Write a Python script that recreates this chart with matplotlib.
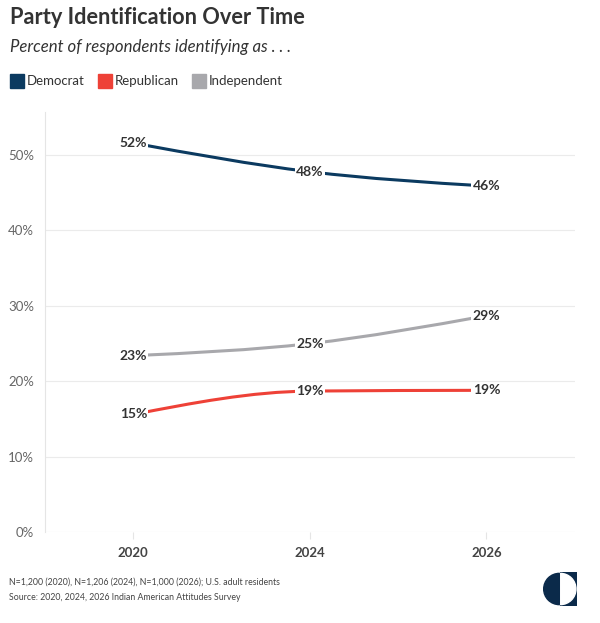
import numpy as np
import matplotlib.pyplot as plt
from matplotlib.path import Path
from matplotlib.patches import PathPatch, Rectangle, Wedge

years = ["2020", "2024", "2026"]
democrat = [51.6, 47.8, 45.9]
republican = [15.6, 18.7, 18.8]
independent = [23.4, 25.0, 28.7]
labels = {
    "Democrat": ["52%", "48%", "46%"],
    "Republican": ["15%", "19%", "19%"],
    "Independent": ["23%", "25%", "29%"],
}
yticks = [0, 10, 20, 30, 40, 50]

colors = {"Democrat": "#0b3a60", "Republican": "#ee4137", "Independent": "#a8a8ac"}
series = {"Democrat": democrat, "Republican": republican, "Independent": independent}

plt.rcParams['font.family'] = ['Lato', 'DejaVu Sans']


def monotone_path(x, y):
    # d3 curveMonotoneX as cubic bezier segments
    x = np.asarray(x, float)
    y = np.asarray(y, float)
    n = len(x)
    h = np.diff(x)
    s = np.diff(y) / h
    t = np.zeros(n)
    for i in range(1, n - 1):
        p = (s[i - 1] * h[i] + s[i] * h[i - 1]) / (h[i - 1] + h[i])
        t[i] = (np.sign(s[i - 1]) + np.sign(s[i])) * min(abs(s[i - 1]), abs(s[i]), 0.5 * abs(p))
    t[0] = (3 * s[0] - t[1]) / 2
    t[-1] = (3 * s[-1] - t[-2]) / 2
    verts = [(x[0], y[0])]
    codes = [Path.MOVETO]
    for i in range(n - 1):
        dx = (x[i + 1] - x[i]) / 3
        verts += [(x[i] + dx, y[i] + dx * t[i]),
                  (x[i + 1] - dx, y[i + 1] - dx * t[i + 1]),
                  (x[i + 1], y[i + 1])]
        codes += [Path.CURVE4] * 3
    return Path(verts, codes)


fig = plt.figure(figsize=(6, 6.23), dpi=100)
ax = fig.add_axes([0.075, 0.146, 0.883, 0.674])

xs = np.arange(len(years))
for name, vals in series.items():
    ax.add_patch(PathPatch(monotone_path(xs, vals), fill=False,
                           edgecolor=colors[name], lw=2.2, zorder=3))
    for i, (v, lab) in enumerate(zip(vals, labels[name])):
        ax.text(xs[i], v, lab, ha="center", va="center", fontsize=10, fontweight="bold",
                color="#333333", zorder=4,
                bbox=dict(boxstyle="square,pad=0.1", fc="white", ec="none"))

ax.set_xlim(-0.5, 2.5)
ax.set_ylim(0, 55.7)
ax.set_xticks(xs)
ax.set_xticklabels(years, fontweight="bold", fontsize=9.5, color="#444444")
ax.set_yticks(yticks)
ax.set_yticklabels([f"{v}%" for v in yticks], fontsize=9.5, color="#666666")
ax.grid(axis="y", color="#ebebeb", lw=0.8)
ax.set_axisbelow(True)
for sp in ["top", "right", "bottom"]:
    ax.spines[sp].set_visible(False)
ax.spines["left"].set_color("#e5e5e5")
ax.tick_params(axis="y", length=0, pad=8)
ax.tick_params(axis="x", length=5, color="#e5e5e5", pad=6)

fig.text(10 / 600, 1 - 18 / 623, "Party Identification Over Time", fontsize=15.7,
         fontweight="bold", color="#333333", va="center")
fig.text(10 / 600, 1 - 47 / 623, "Percent of respondents identifying as . . .",
         fontsize=12.1, style="italic", color="#333333", va="center")

lx = 10
for name in series:
    fig.patches.append(Rectangle((lx / 600, 1 - 88 / 623), 14 / 600, 14 / 623,
                                 transform=fig.transFigure, color=colors[name]))
    t = fig.text((lx + 17) / 600, 1 - 81 / 623, name, fontsize=9.5, color="#333333", va="center")
    fig.canvas.draw()
    bb = t.get_window_extent()
    lx = bb.x1 + 13

fig.text(9 / 600, 1 - 582 / 623, "N=1,200 (2020), N=1,206 (2024), N=1,000 (2026); U.S. adult residents",
         fontsize=6.3, color="#444444", va="center")
fig.text(9 / 600, 1 - 597 / 623, "Source: 2020, 2024, 2026 Indian American Attitudes Survey",
         fontsize=6.3, color="#444444", va="center")

# logo
lax = fig.add_axes([543 / 600, 1 - 606 / 623, 34 / 600, 34 / 623])
lax.set_xlim(-1, 1)
lax.set_ylim(-1, 1)
lax.set_aspect("auto")
lax.axis("off")
lax.add_patch(Rectangle((0.02, -1), 0.98, 2, color="#0b2a4a"))
lax.add_patch(Wedge((0.02, 0), 0.92, -90, 90, color="white"))
lax.add_patch(Wedge((-0.04, 0), 0.92, 90, 270, color="#0b2a4a"))

fig.savefig("out.png", dpi=100)
